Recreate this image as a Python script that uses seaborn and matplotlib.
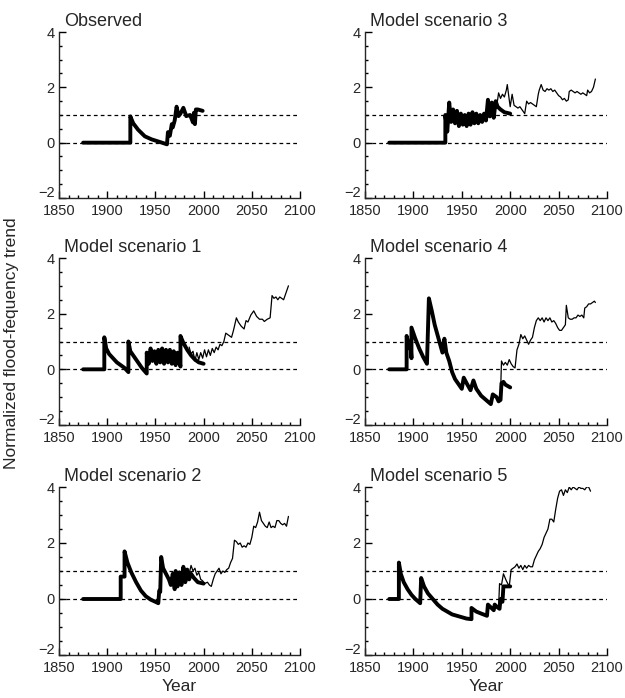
import matplotlib
matplotlib.use("Agg")
import matplotlib.pyplot as plt
import matplotlib.transforms as mtransforms
import seaborn as sns
import pandas as pd
from matplotlib.ticker import MultipleLocator

# ---------------- data ----------------
titles = ["Observed", "Model scenario 3", "Model scenario 1",
          "Model scenario 4", "Model scenario 2", "Model scenario 5"]

obs_thick_years = [1875, 1924, 1924, 1927, 1932, 1939, 1946, 1955, 1962, 1963, 1965, 1967, 1968,
                   1970, 1972, 1974, 1976, 1979, 1982, 1986, 1989, 1990, 1991, 1992, 1994, 1999]
obs_thick_vals = [0, 0, 0.95, 0.7, 0.47, 0.23, 0.12, 0.02, -0.06, 0.38, 0.25, 0.67, 0.55,
                  0.8, 1.3, 0.96, 1.05, 1.26, 0.96, 1.0, 0.73, 1.08, 0.67, 1.2, 1.2, 1.15]

s3_thick_years = [1875, 1933, 1933, 1935, 1937, 1939, 1941, 1943, 1945, 1947, 1949, 1951, 1953,
                  1955, 1957, 1959, 1961, 1963, 1965, 1967, 1969, 1971, 1973, 1975, 1977, 1979,
                  1981, 1983, 1985, 1987, 1990, 1994, 2000]
s3_thick_vals = [0, 0, 1.0, 0.4, 1.45, 0.75, 1.2, 0.7, 1.15, 0.6, 1.05, 0.65, 1.0,
                 0.6, 1.05, 0.65, 1.1, 0.7, 1.05, 0.7, 1.0, 0.75, 1.05, 0.8, 1.55, 0.95,
                 1.45, 0.9, 1.5, 1.3, 1.2, 1.1, 1.05]
s3_thin_years = [1986, 1988, 1990, 1992, 1994, 1996, 1997, 1999, 2000, 2002, 2004, 2006, 2008,
                 2010, 2012, 2014, 2015, 2017, 2019, 2021, 2023, 2025, 2027, 2029, 2030, 2032,
                 2034, 2036, 2038, 2040, 2042, 2044, 2046, 2048, 2050, 2052, 2054, 2056, 2058,
                 2060, 2061, 2063, 2065, 2067, 2069, 2071, 2073, 2075, 2077, 2079, 2080, 2082,
                 2084, 2086, 2088]
s3_thin_vals = [1.3, 1.8, 1.6, 1.75, 1.65, 1.9, 2.1, 1.55, 1.3, 1.75, 1.35, 1.3, 1.25,
                1.3, 1.2, 1.1, 1.05, 1.5, 1.4, 1.45, 1.4, 1.35, 1.3, 1.75, 1.9, 2.1,
                1.9, 1.85, 1.95, 1.9, 1.95, 1.85, 1.9, 1.8, 1.7, 1.65, 1.55, 1.6, 1.5,
                1.55, 1.85, 1.9, 1.85, 1.8, 1.85, 1.8, 1.75, 1.8, 1.75, 1.7, 1.9, 1.8,
                1.85, 2.0, 2.3]

s1_thick_years = [1875, 1897, 1897, 1899, 1902, 1906, 1910, 1914, 1918, 1922, 1922, 1924, 1928,
                  1932, 1936, 1941, 1941, 1943, 1945, 1947, 1949, 1951, 1953, 1955, 1957, 1959,
                  1961, 1963, 1965, 1967, 1969, 1971, 1973, 1976, 1976, 1979, 1983, 1987, 1991,
                  1995, 2000]
s1_thick_vals = [0, 0, 1.15, 0.75, 0.55, 0.4, 0.25, 0.15, 0.05, -0.1, 1.0, 0.65, 0.45,
                 0.25, 0.05, -0.15, 0.6, 0.2, 0.75, 0.3, 0.65, 0.2, 0.7, 0.25, 0.75, 0.2,
                 0.7, 0.25, 0.7, 0.2, 0.65, 0.15, 0.6, 0.1, 1.2, 0.95, 0.7, 0.5, 0.35,
                 0.25, 0.2]
s1_thin_years = [1985, 1987, 1989, 1991, 1993, 1995, 1997, 1999, 2001, 2003, 2005, 2007, 2009,
                 2011, 2013, 2015, 2017, 2019, 2021, 2023, 2025, 2027, 2029, 2031, 2034, 2036,
                 2039, 2042, 2044, 2046, 2049, 2052, 2055, 2058, 2061, 2063, 2066, 2069, 2071,
                 2073, 2075, 2077, 2079, 2081, 2083, 2085, 2087, 2088]
s1_thin_vals = [0.8, 0.55, 0.65, 0.3, 0.6, 0.35, 0.6, 0.4, 0.7, 0.45, 0.7, 0.5, 0.75,
                0.6, 0.8, 0.7, 0.9, 0.85, 1.0, 1.3, 1.25, 1.2, 1.15, 1.4, 1.85, 1.7,
                1.55, 1.45, 1.75, 1.7, 1.95, 2.1, 1.9, 1.8, 1.8, 1.72, 1.8, 1.85, 2.65,
                2.55, 2.6, 2.5, 2.6, 2.55, 2.5, 2.7, 2.9, 3.0]

s4_thick_years = [1875, 1893, 1893, 1896, 1897, 1898, 1898, 1902, 1906, 1910, 1914, 1916, 1919,
                  1922, 1926, 1930, 1932, 1934, 1937, 1940, 1943, 1946, 1950, 1952, 1955, 1959,
                  1962, 1965, 1970, 1975, 1980, 1982, 1986, 1988, 1990, 1991, 1993, 1995, 2000]
s4_thick_vals = [0, 0, 1.2, 0.75, 0.9, 0.4, 1.5, 1.1, 0.75, 0.45, 0.2, 2.55, 2.1,
                 1.6, 1.1, 0.6, 1.1, 0.6, 0.3, -0.1, -0.35, -0.5, -0.7, -0.3, -0.5, -0.75,
                 -0.4, -0.7, -0.95, -1.1, -1.25, -0.9, -1.0, -1.15, -1.1, -0.5, -0.45, -0.55, -0.65]
s4_thin_years = [1990, 1991, 1993, 1995, 1997, 1999, 2001, 2003, 2005, 2007, 2009, 2011, 2013,
                 2015, 2017, 2019, 2021, 2023, 2025, 2027, 2029, 2031, 2033, 2035, 2037, 2039,
                 2041, 2043, 2045, 2047, 2049, 2051, 2053, 2055, 2057, 2058, 2060, 2062, 2064,
                 2066, 2068, 2070, 2072, 2074, 2076, 2077, 2079, 2081, 2083, 2085, 2087, 2088]
s4_thin_vals = [-0.9, 0.3, 0.15, 0.25, 0.15, 0.35, 0.2, 0.1, 0.05, 0.7, 0.9, 1.25, 1.1,
                1.2, 1.05, 0.9, 1.05, 1.15, 1.5, 1.75, 1.85, 1.75, 1.85, 1.7, 1.85, 1.75,
                1.85, 1.7, 1.75, 1.65, 1.5, 1.4, 1.4, 1.5, 1.6, 2.3, 1.85, 1.8, 1.8,
                1.85, 1.85, 1.95, 1.9, 1.95, 1.85, 2.2, 2.25, 2.35, 2.35, 2.4, 2.45, 2.4]

s2_thick_years = [1875, 1914, 1914, 1918, 1918, 1921, 1925, 1930, 1935, 1940, 1945, 1950, 1953,
                  1954, 1955, 1956, 1958, 1961, 1964, 1966, 1968, 1970, 1971, 1973, 1975, 1977,
                  1979, 1981, 1983, 1985, 1987, 1990, 1994, 2000]
s2_thick_vals = [0, 0, 0.8, 0.8, 1.7, 1.3, 0.95, 0.6, 0.3, 0.1, -0.02, -0.1, -0.15,
                 0.3, 0.25, 1.5, 1.1, 0.9, 0.7, 0.5, 0.9, 0.35, 1.0, 0.45, 0.95, 0.5,
                 1.15, 0.6, 1.05, 0.7, 0.9, 0.75, 0.6, 0.55]
s2_thin_years = [1985, 1987, 1989, 1991, 1993, 1995, 1997, 1999, 2001, 2004, 2006, 2008, 2010,
                 2012, 2014, 2016, 2018, 2020, 2022, 2024, 2026, 2028, 2030, 2032, 2034, 2036,
                 2038, 2040, 2042, 2044, 2046, 2048, 2050, 2052, 2054, 2056, 2058, 2060, 2062,
                 2064, 2066, 2068, 2070, 2072, 2074, 2076, 2078, 2080, 2082, 2084, 2086, 2088]
s2_thin_vals = [0.9, 1.2, 1.0, 1.1, 0.85, 0.95, 0.7, 0.65, 0.55, 0.6, 0.5, 0.45, 0.7,
                0.9, 1.0, 1.1, 0.9, 1.0, 0.95, 1.05, 1.1, 1.3, 1.45, 2.1, 2.05, 1.95,
                2.0, 1.85, 1.9, 1.85, 2.0, 1.95, 2.2, 2.6, 2.55, 2.75, 3.1, 2.8, 2.7,
                2.6, 2.55, 2.75, 2.55, 2.6, 2.55, 2.8, 2.8, 2.7, 2.65, 2.7, 2.6, 2.95]

s5_thick_years = [1875, 1885, 1885, 1887, 1890, 1894, 1898, 1902, 1907, 1908, 1911, 1915, 1920,
                  1925, 1930, 1935, 1940, 1945, 1950, 1955, 1960, 1960, 1965, 1970, 1976, 1977,
                  1980, 1983, 1984, 1987, 1989, 1990, 1992, 1993, 1996, 2000]
s5_thick_vals = [0, 0, 1.3, 0.9, 0.6, 0.35, 0.15, 0.0, -0.15, 0.75, 0.45, 0.2, 0.0,
                 -0.2, -0.35, -0.45, -0.55, -0.6, -0.65, -0.7, -0.72, -0.32, -0.45, -0.52, -0.6, -0.2,
                 -0.3, -0.4, -0.2, -0.3, -0.35, 0.0, -0.1, 0.45, 0.45, 0.45]
s5_thin_years = [1988, 1989, 1991, 1993, 1996, 1999, 2001, 2003, 2005, 2007, 2009, 2011, 2013,
                 2015, 2017, 2019, 2021, 2023, 2025, 2027, 2029, 2031, 2033, 2035, 2037, 2039,
                 2041, 2043, 2045, 2047, 2049, 2051, 2053, 2055, 2057, 2059, 2061, 2063, 2065,
                 2067, 2069, 2071, 2073, 2075, 2077, 2079, 2081, 2083]
s5_thin_vals = [-0.3, 0.55, 0.5, 0.9, 0.65, 0.45, 1.05, 1.1, 1.15, 1.25, 1.1, 1.2, 1.05,
                1.2, 1.1, 1.2, 1.15, 1.15, 1.4, 1.55, 1.7, 1.8, 1.95, 2.2, 2.35, 2.5,
                2.85, 2.85, 2.75, 3.2, 3.6, 3.85, 3.9, 3.7, 3.9, 3.8, 4.0, 3.9, 4.0,
                3.95, 3.9, 4.0, 3.95, 3.95, 3.9, 4.0, 4.0, 3.85]

panels = [
    (obs_thick_years, obs_thick_vals, None, None),
    (s3_thick_years, s3_thick_vals, s3_thin_years, s3_thin_vals),
    (s1_thick_years, s1_thick_vals, s1_thin_years, s1_thin_vals),
    (s4_thick_years, s4_thick_vals, s4_thin_years, s4_thin_vals),
    (s2_thick_years, s2_thick_vals, s2_thin_years, s2_thin_vals),
    (s5_thick_years, s5_thick_vals, s5_thin_years, s5_thin_vals),
]

x_ticks = [1850, 1900, 1950, 2000, 2050, 2100]
y_ticks = [-2, 0, 2, 4]
ref_levels = [0, 1]

# ---------------- style ----------------
sns.set_theme(style="ticks")
plt.rcParams['font.family'] = ['Liberation Sans', 'DejaVu Sans']
plt.rcParams['axes.linewidth'] = 1.0

fig = plt.figure(figsize=(6.25, 6.98), dpi=100)

W, H = 625, 698
lefts = [59, 365]
widths = [241, 242]
rows = [(32, 198), (258, 425), (487, 655)]

for i, (ty, tv, hy, hv) in enumerate(panels):
    r, c = divmod(i, 2)
    top, bot = rows[r]
    ax = fig.add_axes([lefts[c] / W, 1 - bot / H, widths[c] / W, (bot - top) / H])

    for lv in ref_levels:
        ax.axhline(lv, color='black', lw=0.9, ls=(0, (3, 2.5)), zorder=1)

    if hy is not None:
        dthin = pd.DataFrame({'year': hy, 'value': hv})
        sns.lineplot(data=dthin, x='year', y='value', estimator=None, sort=False,
                     color='black', lw=0.9, ax=ax, zorder=2)
    dthick = pd.DataFrame({'year': ty, 'value': tv})
    sns.lineplot(data=dthick, x='year', y='value', estimator=None, sort=False,
                 color='black', lw=2.8, ax=ax, zorder=3)

    ax.set_xlim(1850, 2100)
    ax.set_ylim(-2, 4)
    ax.set_xticks(x_ticks)
    ax.set_yticks(y_ticks)
    ax.xaxis.set_minor_locator(MultipleLocator(10))
    ax.yaxis.set_minor_locator(MultipleLocator(0.5))
    ax.tick_params(which='both', direction='in', labelsize=10.5, width=1.0, color='black')
    ax.tick_params(which='major', length=5)
    ax.tick_params(axis='x', which='major', pad=4)
    ax.tick_params(axis='y', which='major', pad=3)
    ax.tick_params(which='minor', length=2.5)
    sns.despine(ax=ax)
    ax.set_ylabel('')
    if r == 2:
        ax.set_xlabel('Year', fontsize=12.5, labelpad=3)
    else:
        ax.set_xlabel('')
    ax.text(0.02, 1.036, titles[i], transform=ax.transAxes, fontsize=13,
            ha='left', va='baseline')

    # raise the bottom y label a little so it clears the first year label
    lab = ax.get_yticklabels()[0]
    lab.set_transform(lab.get_transform() +
                      mtransforms.ScaledTranslation(0, 5 / 72, fig.dpi_scale_trans))

fig.text(0.019, 0.509, 'Normalized flood-fequency trend', rotation=90,
         fontsize=12.5, ha='center', va='center')

fig.savefig('out.png', dpi=100)
